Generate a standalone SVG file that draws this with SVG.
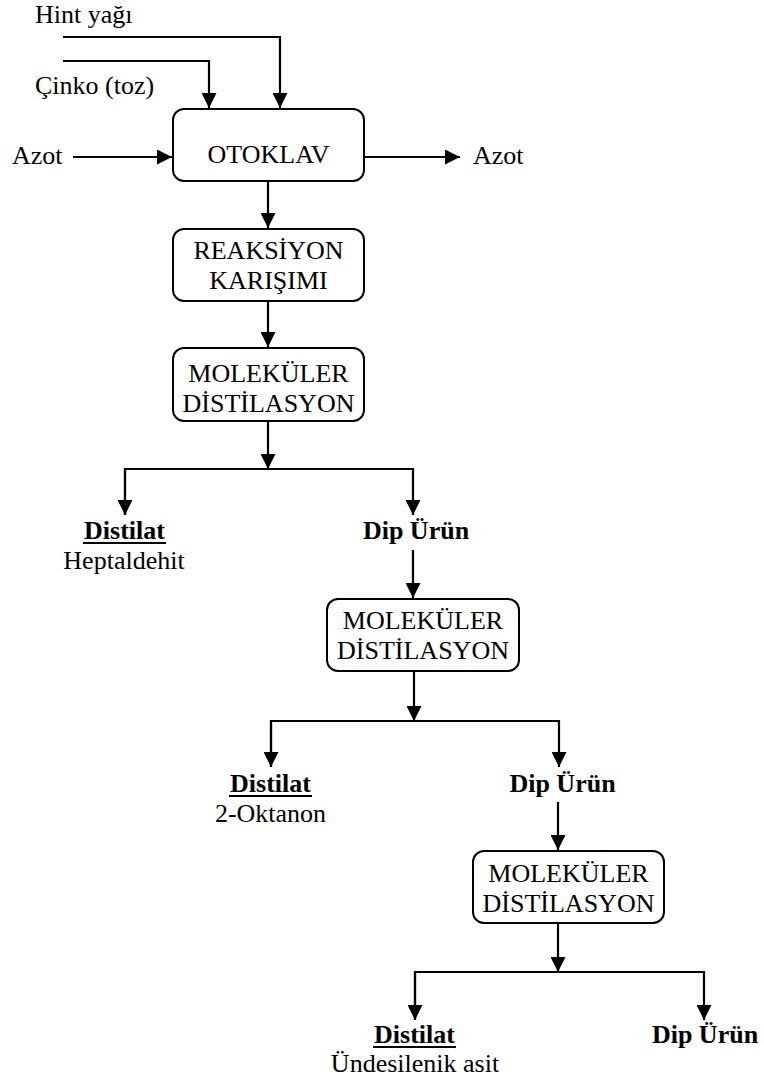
<svg xmlns="http://www.w3.org/2000/svg" width="764" height="1084" viewBox="0 0 764 1084" font-family="'Liberation Serif', 'Times New Roman', Times, 'DejaVu Serif', serif">
<style>
  text { font-family: "Liberation Serif", "Times New Roman", Times, "DejaVu Serif", serif; font-size: 26px; fill: #000; }
  .b { font-weight: bold; }
  .m { text-anchor: middle; }
  .box { fill: #fff; stroke: #000; stroke-width: 2; }
  .c { fill: none; stroke: #000; stroke-width: 2.2; }
  .ul { stroke: #000; stroke-width: 2; }
</style>
<defs>
  <marker id="ah" viewBox="0 0 16 16" refX="16" refY="8" markerWidth="16" markerHeight="15" orient="auto" markerUnits="userSpaceOnUse">
    <path d="M0,0 L16,8 L0,16 z" fill="#000"/>
  </marker>
</defs>
<rect width="764" height="1084" fill="#fff"/>

<g id="connectors">
  <path class="c" d="M63,37 H280 V108" marker-end="url(#ah)"/>
  <path class="c" d="M63,61 H209 V108" marker-end="url(#ah)"/>
  <path class="c" d="M73,157 H172" marker-end="url(#ah)"/>
  <path class="c" d="M365,157 H460" marker-end="url(#ah)"/>
  <path class="c" d="M268,182 V228" marker-end="url(#ah)"/>
  <path class="c" d="M268,302 V347" marker-end="url(#ah)"/>
  <path class="c" d="M268,422 V469" marker-end="url(#ah)"/>
  <path class="c" d="M125,515 V469 H413 V515" marker-end="url(#ah)"/>
  <path class="c" d="M125,469 V515" marker-end="url(#ah)"/>
  <path class="c" d="M413,550 V598" marker-end="url(#ah)"/>
  <path class="c" d="M414,672 V721" marker-end="url(#ah)"/>
  <path class="c" d="M271,767 V721 H559 V767" marker-end="url(#ah)"/>
  <path class="c" d="M271,721 V767" marker-end="url(#ah)"/>
  <path class="c" d="M558,802 V850" marker-end="url(#ah)"/>
  <path class="c" d="M558,924 V972" marker-end="url(#ah)"/>
  <path class="c" d="M415,1020 V972 H704 V1020" marker-end="url(#ah)"/>
  <path class="c" d="M415,972 V1020" marker-end="url(#ah)"/>
</g>

<g id="hint-yagi"><text x="35" y="23">Hint yağı</text></g>
<g id="cinko"><text x="35" y="94">Çinko (toz)</text></g>
<g id="azot-in"><text x="12" y="164">Azot</text></g>
<g id="azot-out"><text x="473" y="164">Azot</text></g>

<g id="otoklav">
  <rect class="box" x="173" y="109" width="191" height="72" rx="11"/>
  <text class="m" x="268.5" y="163">OTOKLAV</text>
</g>
<g id="reaksiyon">
  <rect class="box" x="173" y="229" width="191" height="72" rx="11"/>
  <text class="m" x="268.5" y="259">REAKSİYON</text>
  <text class="m" x="268.5" y="289">KARIŞIMI</text>
</g>
<g id="mol1">
  <rect class="box" x="173" y="348" width="191" height="73" rx="11"/>
  <text class="m" x="268.5" y="382">MOLEKÜLER</text>
  <text class="m" x="268.5" y="412">DİSTİLASYON</text>
</g>

<g id="distilat1">
  <text class="b m" x="124.5" y="539">Distilat</text>
  <line class="ul" x1="83" y1="543" x2="166" y2="543"/>
  <text class="m" x="124" y="569">Heptaldehit</text>
</g>
<g id="dip1"><text class="b m" x="416" y="539">Dip Ürün</text></g>

<g id="mol2">
  <rect class="box" x="327" y="599" width="192" height="72" rx="11"/>
  <text class="m" x="423" y="629">MOLEKÜLER</text>
  <text class="m" x="423" y="659">DİSTİLASYON</text>
</g>

<g id="distilat2">
  <text class="b m" x="270.5" y="792">Distilat</text>
  <line class="ul" x1="229" y1="796" x2="312" y2="796"/>
  <text class="m" x="270.5" y="822">2-Oktanon</text>
</g>
<g id="dip2"><text class="b m" x="562.5" y="792">Dip Ürün</text></g>

<g id="mol3">
  <rect class="box" x="473" y="851" width="191" height="72" rx="11"/>
  <text class="m" x="568.5" y="882">MOLEKÜLER</text>
  <text class="m" x="568.5" y="912">DİSTİLASYON</text>
</g>

<g id="distilat3">
  <text class="b m" x="414.5" y="1043">Distilat</text>
  <line class="ul" x1="373" y1="1047" x2="456" y2="1047"/>
  <text class="m" x="415" y="1072">Ündesilenik asit</text>
</g>
<g id="dip3"><text class="b m" x="705" y="1043">Dip Ürün</text></g>
</svg>
